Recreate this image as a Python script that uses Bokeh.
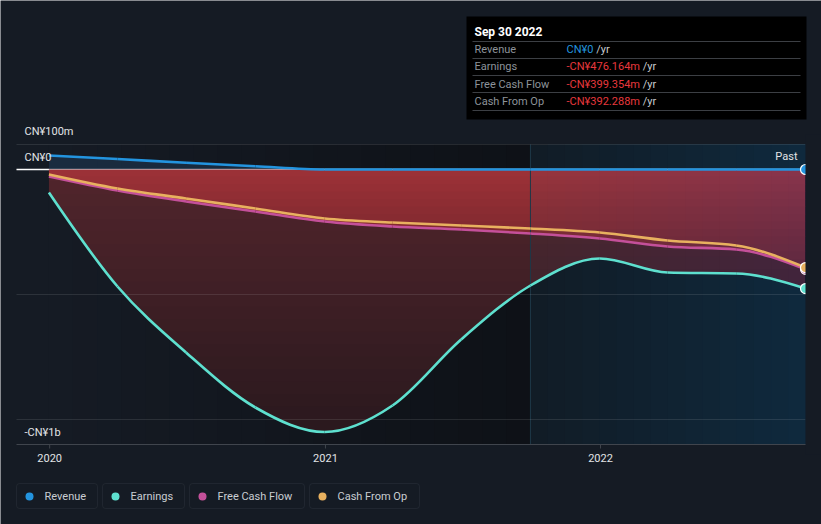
import numpy as np
from bokeh.plotting import figure
from bokeh.models import Range1d, Label, BoxAnnotation
from bokeh.embed import file_html
from bokeh.resources import INLINE

# ---------------- data (CN¥ millions, trailing twelve months) ----------------
dates = ["2019-12-31", "2020-03-31", "2020-06-30", "2020-09-30", "2020-12-31", "2021-03-31",
         "2021-06-30", "2021-09-30", "2021-12-31", "2022-03-31", "2022-06-30", "2022-09-30"]
revenue = [56, 42, 27, 13, 0, 0, 0, 0, 0, 0, 0, 0]
earnings = [-92, -468, -732, -952, -1050, -944, -680, -464, -356, -412, -416, -476.164]
free_cash_flow = [-28, -84, -128, -168, -208, -228, -240, -256, -276, -308, -320, -399.354]
cash_from_op = [-20, -76, -116, -156, -196, -212, -224, -236, -252, -284, -304, -392.288]
series_names = ["Revenue", "Earnings", "Free Cash Flow", "Cash From Op"]
y_tick_values = [100, 0, -500, -1000]
y_tick_labels = [(100, "CN¥100m"), (0, "CN¥0"), (-1000, "-CN¥1b")]
x_tick_dates = ["2020-01-01", "2021-01-01", "2022-01-01"]
x_tick_labels = ["2020", "2021", "2022"]
past_start = "2021-09-30"
tooltip_title = "Sep 30 2022"

# ---------------- style / layout ----------------
W, H = 821, 524
BG = "#151b24"
FONT = "Roboto"
COLORS = {"Revenue": "#2394df", "Earnings": "#5ee0cf",
          "Free Cash Flow": "#c4509a", "Cash From Op": "#e8b15f"}
RED_TXT = "#e8383d"
AXIS_C = "#40454d"
TXT_C = "#e2e4e6"
PLOT_L, PLOT_R, PLOT_T, PLOT_B = 16, 805, 144, 444   # chart box in page pixels


def to_ms(d):
    return float(np.datetime64(d, "ms").astype("int64"))


xs = np.array([to_ms(d) for d in dates])
x_start, x_end = to_ms("2019-11-18"), to_ms(dates[-1])
y_lo, y_hi = -1100, 100
past_ms = to_ms(past_start)

kx = (PLOT_R - PLOT_L) / (x_end - x_start)          # px per ms
ky = (PLOT_B - PLOT_T) / (y_hi - y_lo)              # px per million
x_range = Range1d(x_start - PLOT_L / kx, x_end + (W - PLOT_R) / kx)
y_range = Range1d(y_lo - (H - PLOT_B) / ky, y_hi + PLOT_T / ky)


def tangents(xv, yv):
    h = np.diff(xv)
    s = np.diff(yv) / h
    t = np.zeros(len(xv))
    for i in range(1, len(xv) - 1):
        s0, s1 = s[i - 1], s[i]
        pp = (s0 * h[i] + s1 * h[i - 1]) / (h[i - 1] + h[i])
        t[i] = (np.sign(s0) + np.sign(s1)) * min(abs(s0), abs(s1), 0.5 * abs(pp))
    t[0] = (3 * s[0] - t[1]) / 2
    t[-1] = (3 * s[-1] - t[-2]) / 2
    return t


def bezier_parts(xv, yv):
    xv, yv = np.asarray(xv, float), np.asarray(yv, float)
    t = tangents(xv, yv)
    h = np.diff(xv) / 3
    x0, x1, y0, y1 = xv[:-1], xv[1:], yv[:-1], yv[1:]
    return dict(x0=x0, y0=y0, x1=x1, y1=y1, cx0=x0 + h, cy0=y0 + h * t[:-1],
                cx1=x1 - h, cy1=y1 - h * t[1:])


def curve(xv, yv, m=24):
    b = bezier_parts(xv, yv)
    tt = np.linspace(0, 1, m, endpoint=False)[None, :]

    def ev(p0, c0, c1, p1):
        return ((1 - tt) ** 3 * p0[:, None] + 3 * (1 - tt) ** 2 * tt * c0[:, None]
                + 3 * (1 - tt) * tt ** 2 * c1[:, None] + tt ** 3 * p1[:, None]).ravel()
    X = np.append(ev(b["x0"], b["cx0"], b["cx1"], b["x1"]), b["x1"][-1])
    Y = np.append(ev(b["y0"], b["cy0"], b["cy1"], b["y1"]), b["y1"][-1])
    return X, Y


def mix(c0, c1, f):
    f = min(max(f, 0), 1)
    return tuple(int(round(a + (b - a) * f)) for a, b in zip(c0, c1))


def hexc(c):
    return "#%02x%02x%02x" % c


p = figure(width=W, height=H, x_range=x_range, y_range=y_range,
           x_axis_location=None, y_axis_location=None,
           output_backend="svg", toolbar_location=None,
           min_border=0, min_border_left=0, min_border_right=0,
           min_border_top=0, min_border_bottom=0,
           background_fill_color=BG, border_fill_color=BG, outline_line_color=None)
p.xgrid.visible = False
p.ygrid.visible = False

# opaque background gradient: darkening toward the "past" window, then the blue past window
n_dark, n_past = 20, 16
bg_lefts = list(np.linspace(xs[0], past_ms, n_dark, endpoint=False)) + \
    list(np.linspace(past_ms, x_end, n_past, endpoint=False))
bg_cols = [hexc(mix((21, 27, 36), (14, 17, 23), i / (n_dark - 1))) for i in range(n_dark)] + \
    [hexc(mix((17, 28, 38), (15, 41, 61), i / (n_past - 1))) for i in range(n_past)]
p.quad(left=bg_lefts, right=x_end, bottom=y_lo, top=y_hi, fill_color=bg_cols,
       line_color=None, level="image")
p.segment(x0=x_start, x1=x_end, y0=0, y1=0, line_color="white", line_width=1.5,
          level="image")

# smooth curves
X, R = curve(xs, revenue)
_, E = curve(xs, earnings)
_, F = curve(xs, free_cash_flow)
_, C = curve(xs, cash_from_op)

p.varea(x=X, y1=0, y2=np.maximum(R, 0), fill_color=(30, 60, 90), fill_alpha=0.5,
        level="underlay")

red_edges = np.linspace(0, -420, 15)
for hi, lo in zip(red_edges[:-1], red_edges[1:]):
    col = mix((157, 49, 55), (112, 36, 43), -(hi + lo) / 2 / 400)
    p.varea(x=X, y1=np.clip(0, lo, hi + 2), y2=np.clip(F, lo, hi + 2), fill_color=col,
            level="underlay")

dark_edges = np.linspace(0, -1100, 23)
for hi, lo in zip(dark_edges[:-1], dark_edges[1:]):
    col = mix((82, 37, 44), (40, 24, 29), -(hi + lo) / 2 / 1100)
    p.varea(x=X, y1=np.clip(F, lo, hi + 2), y2=np.clip(E, lo, hi + 2), fill_color=col,
            level="underlay")

# "past" window tint over the filled band (stacked, growing to the right)
TINT = (60, 110, 160)
a_t = 1 - (0.80 / 0.95) ** (1 / (n_past - 1))
for i, lf in enumerate(np.linspace(past_ms, x_end, n_past, endpoint=False)):
    m = X > lf
    xx = np.concatenate([[lf], X[m]])
    ee = np.concatenate([[np.interp(lf, X, E)], E[m]])
    p.varea(x=xx, y1=0, y2=ee, fill_color=TINT, fill_alpha=(0.05 if i == 0 else a_t),
            level="glyph")

p.segment(x0=past_ms, x1=past_ms, y0=y_lo, y1=y_hi, line_color="#1e3848", line_width=1,
          level="glyph")

# horizontal grid lines
p.segment(x0=x_start, x1=x_end, y0=y_tick_values, y1=y_tick_values, line_color="white",
          line_alpha=0.1, line_width=1, level="glyph")

# lines (monotone cubic drawn as bezier segments)
for name, vals in [("Revenue", revenue), ("Earnings", earnings),
                   ("Free Cash Flow", free_cash_flow), ("Cash From Op", cash_from_op)]:
    p.bezier(**bezier_parts(xs, vals), line_color=COLORS[name], line_width=2.6,
             level="annotation")

p.scatter(x=[xs[-1]] * 4,
          y=[revenue[-1], earnings[-1], free_cash_flow[-1], cash_from_op[-1]],
          size=10, fill_color=[COLORS[n] for n in series_names],
          line_color="white", line_width=1.2, level="annotation")

# clip everything right of the chart box (end markers are cut in half)
p.quad(left=x_end, right=x_range.end, bottom=y_lo - 40, top=y_hi + 40, fill_color=BG,
       line_color=None, level="overlay")

# x axis
tick_ms = [to_ms(d) for d in x_tick_dates]
p.segment(x0=x_start, x1=x_end, y0=y_lo, y1=y_lo, line_color=AXIS_C, line_width=1,
          level="overlay")
p.segment(x0=tick_ms, x1=tick_ms, y0=y_lo, y1=y_lo - 4 / ky, line_color=AXIS_C,
          line_width=1, level="overlay")
for tm, lab in zip(tick_ms, x_tick_labels):
    p.add_layout(Label(x=tm, y=y_lo, y_offset=-13, text=lab, text_font=FONT,
                       text_font_size="11px", text_color=TXT_C, text_align="center",
                       text_baseline="middle", level="overlay"))

# y labels (inside, next to their lines)
for v, txt in y_tick_labels:
    p.add_layout(Label(x=24, x_units="screen", y=v, y_units="data",
                       y_offset=(-13 if v < -500 else (13 if v > 0 else 12)),
                       text=txt, text_font=FONT, text_font_size="11px",
                       text_color=TXT_C, text_baseline="middle", level="overlay"))

p.add_layout(Label(x=x_end, y=0, x_offset=-8, y_offset=13, text="Past", text_font=FONT,
                   text_font_size="11px", text_color=TXT_C, text_align="right",
                   text_baseline="middle", level="overlay"))

# tooltip box (screen units: origin bottom-left of the canvas)
ADV = {"-": 0.276, ".": 0.263, " ": 0.248, "C": 0.652, "N": 0.713, "¥": 0.525, "m": 0.876}


def text_w(s, size=11):
    return sum(ADV.get(ch, 0.5615) for ch in s) * size


def sy(page_y):
    return H - page_y


def box(l, r, b, t, **kw):
    p.add_layout(BoxAnnotation(left=l, right=r, bottom=b, top=t, left_units="screen",
                               right_units="screen", bottom_units="screen",
                               top_units="screen", **kw))


box(466, 806, sy(119), sy(16), fill_color="#000000", fill_alpha=1, line_color=None,
    level="annotation")
for yy in [41, 58, 75, 92, 110]:
    box(472, 800, sy(yy) - 0.5, sy(yy) + 0.5, fill_color="#3c3f44", fill_alpha=1,
        line_color=None, level="annotation")
p.add_layout(Label(x=474, y=sy(31), x_units="screen", y_units="screen", text=tooltip_title,
                   text_font=FONT, text_font_size="12px", text_color="white",
                   text_font_style="bold", text_baseline="middle", level="overlay"))


def money(v):
    if v == 0:
        return "CN¥0"
    return ("-" if v < 0 else "") + f"CN¥{abs(v):.3f}m"


rows = [("Revenue", revenue[-1]), ("Earnings", earnings[-1]),
        ("Free Cash Flow", free_cash_flow[-1]), ("Cash From Op", cash_from_op[-1])]
for (name, v), yy in zip(rows, [49, 66, 84, 101]):
    p.add_layout(Label(x=474, y=sy(yy), x_units="screen", y_units="screen", text=name,
                       text_font=FONT, text_font_size="11px", text_color="#8d939a",
                       text_baseline="middle", level="overlay"))
    s = money(v)
    p.add_layout(Label(x=566, y=sy(yy), x_units="screen", y_units="screen", text=s,
                       text_font=FONT, text_font_size="11px",
                       text_color=(COLORS["Revenue"] if v >= 0 else RED_TXT),
                       text_baseline="middle", level="overlay"))
    p.add_layout(Label(x=566 + text_w(s + " "), y=sy(yy), x_units="screen",
                       y_units="screen", text="/yr", text_font=FONT,
                       text_font_size="11px", text_color="#c8ccd0",
                       text_baseline="middle", level="overlay"))

# legend (bordered chips below the chart)
chips = [(16, 97), (102, 184), (189, 304), (309, 419)]
for name, (l, r) in zip(series_names, chips):
    box(l, r, sy(508), sy(483), fill_alpha=0, line_color="#3d434b", line_width=1,
        border_radius=3, level="annotation")
    box(l + 9, l + 17, sy(500), sy(492), fill_color=COLORS[name], fill_alpha=1,
        line_color=None, border_radius=4, level="annotation")
    p.add_layout(Label(x=l + 28, y=sy(496), x_units="screen", y_units="screen", text=name,
                       text_font=FONT, text_font_size="11px", text_color="#c9cdd2",
                       text_baseline="middle", level="overlay"))

html = file_html(p, INLINE).replace("<body>", '<body style="background-color:#151b24">', 1)
open("out.html", "w").write(html)
